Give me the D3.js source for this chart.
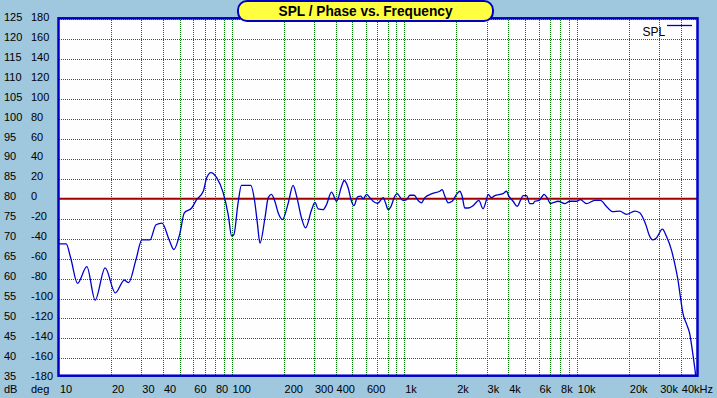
<!DOCTYPE html>
<html>
<head>
<meta charset="utf-8">
<script src="https://cdn.jsdelivr.net/npm/d3@7"></script>
<style>
  html, body { margin: 0; padding: 0; background: #9fc7de; }
  svg { display: block; font-family: "Liberation Sans", Arial, sans-serif; }
</style>
</head>
<body>
<svg id="chart"></svg>
<script>
// SPL curve (Hz, dB)
const freqHz = [10, 11, 11.7, 12.8, 14.5, 16.2, 18.5, 21.2, 23.9, 25.3, 27.9, 30.2, 33.6, 36.5, 39.5,
  43.5, 46.3, 50.2, 53.2, 58.7, 62.7, 68.5, 71.7, 75.9, 81.9, 89.4, 95.6, 100, 103, 109, 114, 129,
  136, 141, 146, 156, 163, 170, 178, 186, 197, 213, 227, 238, 254, 268, 291, 304, 317, 339, 355,
  379, 406, 434, 449, 473, 495, 511, 537, 561, 578, 605, 632, 660, 703, 755, 779, 807, 836, 882,
  910, 943, 985, 1031, 1078, 1141, 1204, 1259, 1316, 1450, 1607, 1658, 1718, 1796, 1894, 2008,
  2099, 2164, 2243, 2344, 2506, 2704, 2863, 2996, 3061, 3203, 3346, 3738, 3913, 4035, 4272, 4507,
  4734, 4881, 5108, 5338, 5578, 5705, 6041, 6324, 6458, 6721, 7034, 7350, 7783, 8510, 9097, 9947,
  10490, 11370, 12700, 13700, 14840, 16080, 17720, 19380, 21650, 23130, 24170, 25290, 26190, 27620,
  28910, 31310, 33030, 35300, 36880, 38550, 39800, 41200, 43120, 45060, 46710, 48170, 48820];
const splDb = [68.7, 68.7, 65.1, 58.8, 63.0, 54.6, 62.7, 56.4, 59.6, 59.0, 64.7, 69.7, 69.7, 73.5, 73.9,
  69.7, 67.3, 71.4, 76.5, 77.7, 79.8, 81.9, 85.3, 86.6, 85.3, 81.5, 76.0, 70.7, 71.0, 79.0, 83.4, 83.4,
  79.4, 73.9, 68.9, 75.2, 80.3, 81.1, 79.4, 76.5, 74.8, 79.0, 83.4, 80.7, 75.2, 72.7, 77.3, 79.1, 77.5, 77.3, 78.6,
  81.7, 79.4, 83.2, 84.6, 82.8, 79.4, 78.3, 80.5, 80.7, 80.0, 81.1, 80.3, 79.4, 78.9, 80.3, 79.0, 77.3, 78.0, 80.7,
  81.3, 80.5, 79.6, 79.8, 80.9, 80.9, 79.6, 79.0, 80.3, 81.3, 81.9, 82.3, 80.7, 79.0, 79.4, 81.1,
  81.9, 80.7, 77.7, 77.7, 78.3, 79.6, 77.5, 79.8, 81.1, 80.3, 80.8, 81.3, 81.9, 80.7, 79.4, 78.1,
  79.8, 80.8, 80.8, 78.8, 78.8, 79.4, 79.6, 80.7, 81.1, 80.3, 78.8, 79.1, 79.4, 78.8, 79.4, 79.4,
  79.8, 78.8, 79.6, 79.6, 78.1, 76.8, 76.9, 76.1, 76.9, 76.5, 75.2, 73.1, 71.0, 69.7,
  70.2, 72.4, 70.6, 67.2, 63.8, 59.6, 55.4, 51.2, 48.7, 46.2, 41.9, 37.7, 35.6];

const dbTicks = [125, 120, 115, 110, 105, 100, 95, 90, 85, 80, 75, 70, 65, 60, 55, 50, 45, 40, 35];
const degTicks = [180, 160, 140, 120, 100, 80, 60, 40, 20, 0, -20, -40, -60, -80, -100, -120, -140, -160, -180];
const freqGrid = [20, 30, 40, 50, 60, 70, 80, 90, 100, 200, 300, 400, 500, 600, 700, 800, 900,
  1000, 2000, 3000, 4000, 5000, 6000, 7000, 8000, 9000, 10000, 20000, 30000, 40000];
const freqLabelValues = [10, 20, 30, 40, 60, 80, 100, 200, 300, 400, 600, 1000, 2000, 3000, 4000,
  6000, 8000, 10000, 20000, 30000, 40000];
const freqLabelText = ["10", "20", "30", "40", "60", "80", "100", "200", "300", "400", "600", "1k",
  "2k", "3k", "4k", "6k", "8k", "10k", "20k", "30k", "40kHz"];
const titleText = "SPL / Phase vs. Frequency";
const legendName = "SPL";

const width = 717, height = 398;
const plotLeft = 59, plotRight = 697.5, plotTop = 18.3, plotBottom = 375.7;

const svg = d3.select('#chart')
  .attr('width', width)
  .attr('height', height);

const x = d3.scaleLog().domain([10, 50000]).range([plotLeft, plotRight]);
const y = d3.scaleLinear().domain([35, 125]).range([378.3, 19.4]);

// plot background
svg.append('rect')
  .attr('x', plotLeft).attr('y', plotTop)
  .attr('width', plotRight - plotLeft).attr('height', plotBottom - plotTop)
  .attr('fill', '#fefefe');

svg.append('clipPath').attr('id', 'clip')
  .append('rect')
  .attr('x', plotLeft).attr('y', plotTop)
  .attr('width', plotRight - plotLeft).attr('height', plotBottom - plotTop);

const grid = svg.append('g').attr('clip-path', 'url(#clip)');

// horizontal dotted grid
grid.selectAll('line.h')
  .data(dbTicks.filter(d => d !== 80))
  .enter().append('line')
  .attr('class', 'h')
  .attr('x1', 59).attr('x2', 698)
  .attr('y1', d => Math.round(y(d)) + 0.5)
  .attr('y2', d => Math.round(y(d)) + 0.5)
  .attr('stroke', '#008000')
  .attr('stroke-dasharray', '1,1')
  .attr('shape-rendering', 'crispEdges');

// vertical dotted grid
grid.selectAll('line.v')
  .data(freqGrid)
  .enter().append('line')
  .attr('class', 'v')
  .attr('x1', d => Math.round(x(d)) + 0.5)
  .attr('x2', d => Math.round(x(d)) + 0.5)
  .attr('y1', 18).attr('y2', 376)
  .attr('stroke', '#008000')
  .attr('stroke-dasharray', '1,1')
  .attr('shape-rendering', 'crispEdges');

// 80 dB / 0 deg reference line
grid.append('line')
  .attr('x1', plotLeft).attr('x2', plotRight)
  .attr('y1', y(80)).attr('y2', y(80))
  .attr('stroke', '#a00000')
  .attr('stroke-width', 2);

// SPL curve
const line = d3.line()
  .x((d, i) => x(freqHz[i]))
  .y(d => y(d))
  .curve(d3.curveMonotoneX);

grid.append('path')
  .datum(splDb)
  .attr('d', line)
  .attr('fill', 'none')
  .attr('stroke', '#0000cc')
  .attr('stroke-width', 1.3);

// frame
svg.append('rect')
  .attr('x', plotLeft - 0.5).attr('y', plotTop)
  .attr('width', plotRight - plotLeft + 0.5).attr('height', plotBottom - plotTop)
  .attr('fill', 'none')
  .attr('stroke', '#0000c8')
  .attr('stroke-width', 2.5);

// left axis labels (dB and deg columns)
svg.selectAll('text.db')
  .data(dbTicks)
  .enter().append('text')
  .attr('class', 'db')
  .attr('x', 4)
  .attr('y', d => y(d) + 1.5)
  .attr('font-size', 11)
  .text(d => d);

svg.selectAll('text.deg')
  .data(degTicks)
  .enter().append('text')
  .attr('class', 'deg')
  .attr('x', 31)
  .attr('y', (d, i) => y(dbTicks[i]) + 1.5)
  .attr('font-size', 11)
  .text(d => d);

svg.append('text').attr('x', 4).attr('y', 393.3).attr('font-size', 11).text('dB');
svg.append('text').attr('x', 31).attr('y', 393.3).attr('font-size', 11).text('deg');

// frequency labels
svg.selectAll('text.freq')
  .data(freqLabelValues)
  .enter().append('text')
  .attr('class', 'freq')
  .attr('x', d => x(d) + 1)
  .attr('y', 393.3)
  .attr('font-size', 11)
  .text((d, i) => freqLabelText[i]);

// title box
svg.append('rect')
  .attr('x', 238).attr('y', 1)
  .attr('width', 255).attr('height', 20)
  .attr('rx', 9).attr('ry', 9)
  .attr('fill', '#ffff40')
  .attr('stroke', '#0000c0')
  .attr('stroke-width', 2);

svg.append('text')
  .attr('x', 365.5).attr('y', 15.8)
  .attr('text-anchor', 'middle')
  .attr('font-size', 14)
  .attr('font-weight', 'bold')
  .attr('textLength', 174)
  .attr('lengthAdjust', 'spacingAndGlyphs')
  .text(titleText);

// legend
svg.append('text')
  .attr('x', 642.5).attr('y', 35.7)
  .attr('font-size', 12)
  .text(legendName);

svg.append('line')
  .attr('x1', 667).attr('x2', 692)
  .attr('y1', 25.5).attr('y2', 25.5)
  .attr('stroke', '#0000cc')
  .attr('stroke-width', 1.3);
</script>
</body>
</html>
